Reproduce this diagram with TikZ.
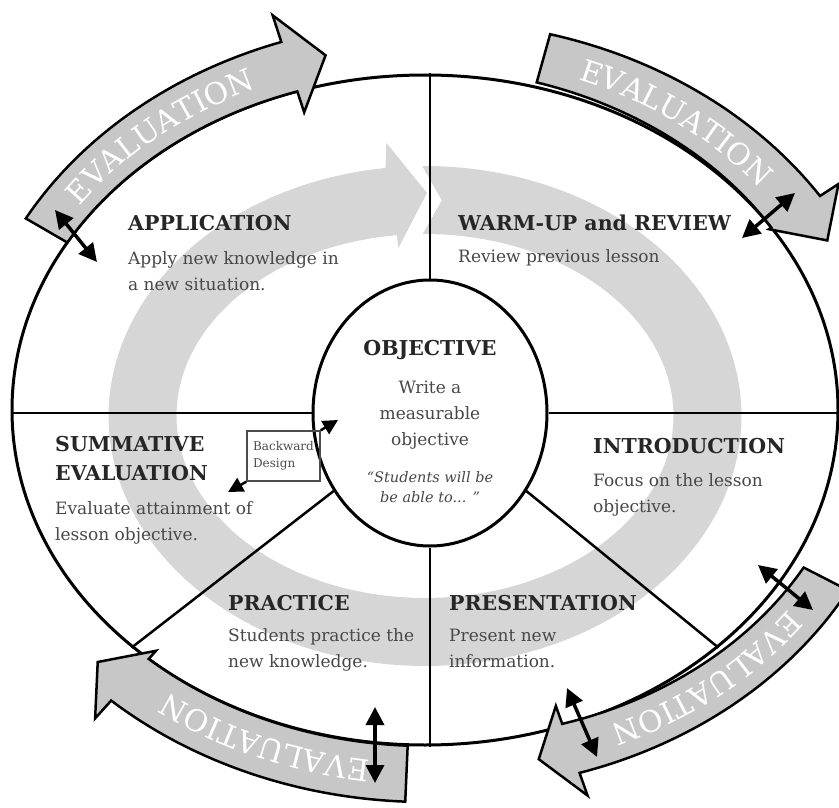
\documentclass[tikz,border=0pt]{standalone}
\usepackage{fontspec}
\setmainfont{DejaVu Serif}
\usetikzlibrary{arrows.meta,positioning,shapes.geometric,decorations.text}

\newcommand{\titlefont}{\fontsize{20.5}{29}\selectfont\bfseries}
\newcommand{\bodyfont}{\fontsize{17}{26}\selectfont}
\newcommand{\quotefont}{\fontsize{14.5}{20}\selectfont\itshape}
\newcommand{\smallfont}{\fontsize{12}{17}\selectfont}
\newcommand{\evalfont}{\fontsize{30}{30}\selectfont\color{white}}

% outer ellipse of the lesson cycle (pixel units)
\def\ecx{425}
\def\ecy{410}
\def\erx{413}
\def\ery{335}

% #1 tail angle, #2 head base angle, #3 tip angle,
% #4/#5 inner offset at tail/base, #6/#7 outer offset at tail/base, #8/#9 barbs
\newcommand{\evalarrow}[9]{%
  \filldraw[evalband]
    plot[domain=0:1, samples=40]
      ({\ecx+(\erx+(#4)+\x*((#5)-(#4)))*cos((#1)+\x*((#2)-(#1)))}, {\ecy+(\ery+(#4)+\x*((#5)-(#4)))*sin((#1)+\x*((#2)-(#1)))})
    -- ({\ecx+(\erx+(#8))*cos(#2)}, {\ecy+(\ery+(#8))*sin(#2)})
    -- ({\ecx+(\erx+((#8)+(#9))/2)*cos(#3)}, {\ecy+(\ery+((#8)+(#9))/2)*sin(#3)})
    -- ({\ecx+(\erx+(#9))*cos(#2)}, {\ecy+(\ery+(#9))*sin(#2)})
    -- plot[domain=0:1, samples=40]
      ({\ecx+(\erx+(#7)+\x*((#6)-(#7)))*cos((#2)+\x*((#1)-(#2)))}, {\ecy+(\ery+(#7)+\x*((#6)-(#7)))*sin((#2)+\x*((#1)-(#2)))})
    -- cycle;
  \path[evaltext]
    plot[domain=0:1, samples=40]
      ({\ecx+(\erx+((#4)+(#6))/2-11+\x*(((#5)+(#7))/2-((#4)+(#6))/2))*cos((#1)+\x*((#2)-(#1)))}, {\ecy+(\ery+((#4)+(#6))/2-11+\x*(((#5)+(#7))/2-((#4)+(#6))/2))*sin((#1)+\x*((#2)-(#1)))});
}

\begin{document}
\begin{tikzpicture}[x=1pt, y=-1pt]
\def \lw {2.5pt}
  \tikzstyle{ring} = [fill=black!16, draw=none]
  \tikzstyle{evalband} = [fill=black!22, draw=black, line width=\lw]
  \tikzstyle{evaltext} = [decorate, decoration={text along path, text align=center,
                          text={|\evalfont|EVALUATION}}]
  \tikzstyle{frame} = [draw, ellipse, line width=3pt, inner sep=0]
  \tikzstyle{lines} = [black, line width=\lw]
  \tikzstyle{title} = [font=\titlefont, text=black!85, anchor=base west, align=left, inner sep=0]
  \tikzstyle{body} = [font=\bodyfont, text=black!72, anchor=base west, align=left, inner sep=0]
  \tikzstyle{dbl} = [black, line width=3.5pt, {Triangle[length=18pt,width=18pt]}-{Triangle[length=18pt,width=18pt]}]
  \tikzstyle{single} = [black, line width=2.5pt, -{Triangle[length=15pt,width=15pt]}]
  \tikzstyle{bdbox} = [draw=black!70, line width=1.5pt, minimum width=73pt, minimum height=50pt,
                       align=left, font=\smallfont, text=black!70, inner sep=3pt]

\useasboundingbox (0,0) rectangle (839,808);

%%%%%%%%%%%%%%%%%%%%%%%%%%%%%%%%%%%%%%%%%%%%%%%%%%%%%%%%%%%%%%%%%%%%%%%%%%%%%%%

% grey cycle arrow in the background
\fill[ring]
  plot[domain=0:1, samples=150] ({425+316.5*cos(269.5+\x*354)}, {416+250*sin(269.5+\x*354)})
  -- ({425+341.5*cos(623.5)}, {416+275*sin(623.5)})
  -- ({425+289.5*cos(630.4)}, {416+223*sin(630.4)})
  -- ({425+235.5*cos(623.5)}, {416+169*sin(623.5)})
  -- plot[domain=0:1, samples=150] ({425+248.5*cos(623.5-\x*354.7)}, {416+182*sin(623.5-\x*354.7)})
  -- ({425+282.5*cos(273.4)}, {416+216*sin(273.4)})
  -- cycle;

%%%%%%%%%%%%%%%%%%%%%%%%%%%%%%%%%%%%%%%%%%%%%%%%%%%%%%%%%%%%%%%%%%%%%%%%%%%%%%%

\node[frame, minimum width=826pt, minimum height=670pt] (outer) at (\ecx,\ecy) {};
\node[frame, minimum width=234pt, minimum height=266pt] (obj) at (430,413) {};

\draw[lines] (obj.north) -- (obj.north |- outer.north);
\draw[lines] (obj.south) -- (obj.south |- outer.south);
\draw[lines] (obj.west) -- (obj.west -| outer.west);
\draw[lines] (obj.east) -- (obj.east -| outer.east);
\draw[lines] (obj.219) -- (outer.219);
\draw[lines] (obj.321) -- (outer.321);

%%%%%%%%%%%%%%%%%%%%%%%%%%%%%%%%%%%%%%%%%%%%%%%%%%%%%%%%%%%%%%%%%%%%%%%%%%%%%%%

% multi-line nodes sit on the baseline of their last line
\node[title] (app) at (128,230) {APPLICATION};
\node[body] (apptxt) at (128,290) {Apply new knowledge in\\a new situation.};
\node[title] (warm) at (458,230) {WARM-UP and REVIEW};
\node[body] (warmtxt) at (458,262) {Review previous lesson};
\node[title] (summ) at (55,480) {SUMMATIVE\\EVALUATION};
\node[body] (summtxt) at (55,540) {Evaluate attainment of\\lesson objective.};
\node[title] (intro) at (593,453) {INTRODUCTION};
\node[body] (introtxt) at (593,512) {Focus on the lesson\\objective.};
\node[title] (prac) at (228,610) {PRACTICE};
\node[body] (practxt) at (228,667) {Students practice the\\new knowledge.};
\node[title] (pres) at (449,610) {PRESENTATION};
\node[body] (prestxt) at (449,667) {Present new\\information.};

\node[title, anchor=base] (objtitle) at (430,355) {OBJECTIVE};
\node[body, anchor=base, align=center] (objtxt) at (430,445) {Write a\\measurable\\objective};
\node[body, anchor=base, align=center, font=\quotefont] (objquote) at (430,502) {“Students will be\\be able to... ”};

%%%%%%%%%%%%%%%%%%%%%%%%%%%%%%%%%%%%%%%%%%%%%%%%%%%%%%%%%%%%%%%%%%%%%%%%%%%%%%%

\evalarrow{210}{252}{257}{0}{0}{48}{52}{-22}{80}
\evalarrow{285.5}{327}{333}{5}{0}{55}{58}{-3}{80}
\evalarrow{27}{70.5}{75}{12}{-2}{62}{50}{-21}{74}
\evalarrow{92.4}{132}{137}{1}{0}{57}{56}{-11}{80}

\coordinate (ev1a) at (55,210);
\coordinate (ev1b) at (97,262);
\coordinate (ev2a) at (742,238);
\coordinate (ev2b) at (795,193);
\coordinate (ev3a) at (758,565);
\coordinate (ev3b) at (813,610);
\coordinate (ev4a) at (567,688);
\coordinate (ev4b) at (597,757);
\coordinate (ev5a) at (375,707);
\coordinate (ev5b) at (375,783);

\draw[dbl] (ev1a) -- (ev1b);
\draw[dbl] (ev2a) -- (ev2b);
\draw[dbl] (ev3a) -- (ev3b);
\draw[dbl] (ev4a) -- (ev4b);
\draw[dbl] (ev5a) -- (ev5b);

%%%%%%%%%%%%%%%%%%%%%%%%%%%%%%%%%%%%%%%%%%%%%%%%%%%%%%%%%%%%%%%%%%%%%%%%%%%%%%%

\node[bdbox] (bd) at (283.5,456) {Backward\\Design};
\coordinate (bd_in) at (338,420);
\coordinate (bd_out) at (228,492);
\draw[single] (bd.north east) -- (bd_in);
\draw[single] (bd.south west) -- (bd_out);

\end{tikzpicture}
\end{document}
